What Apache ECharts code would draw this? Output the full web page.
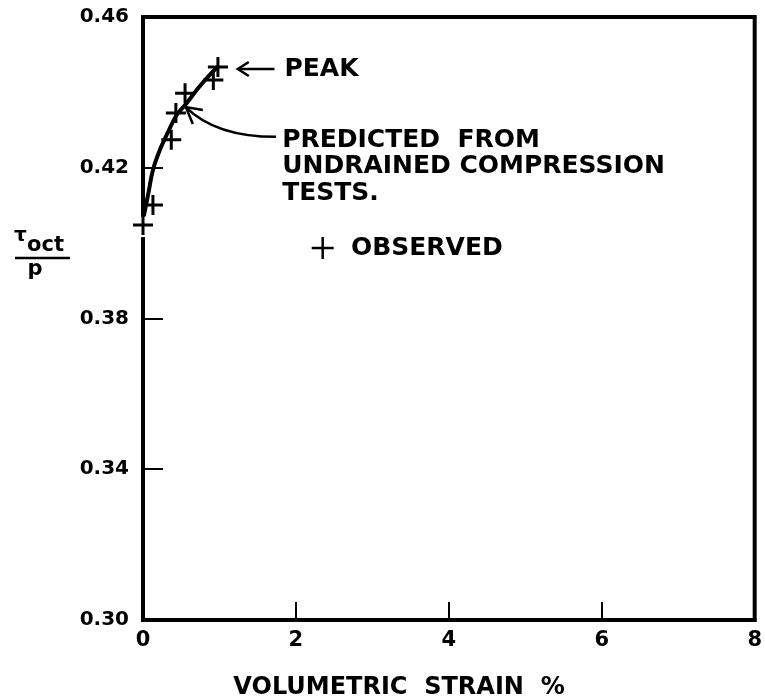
<!DOCTYPE html>
<html>
<head>
<meta charset="utf-8">
<style>
  html, body { margin: 0; padding: 0; background: #fff; }
  #chart { width: 765px; height: 699px; }
</style>
</head>
<body>
<div id="chart"></div>
<script src="https://cdn.jsdelivr.net/npm/echarts@6/dist/echarts.min.js"></script>
<script>
// observed points (+)
var obsStrain = [0.00, 0.13, 0.37, 0.43, 0.55, 0.92, 0.98];
var obsRatio = [0.4048, 0.4101, 0.4274, 0.4345, 0.4398, 0.4433, 0.4467];
// curve predicted from undrained compression tests
var predStrain = [0.01, 0.07, 0.13, 0.22, 0.33, 0.44, 0.57, 0.72, 0.87, 0.98];
var predRatio = [0.4072, 0.4132, 0.4194, 0.4247, 0.4296, 0.4340, 0.4371, 0.4411, 0.4446, 0.4468];
var xTicks = [0, 2, 4, 6, 8];
var yTicks = [0.30, 0.34, 0.38, 0.42, 0.46];

var FONT = '"DejaVu Sans", sans-serif';
var crossPath = 'path://M8.5,0 H11.5 V8.5 H20 V11.5 H11.5 V20 H8.5 V11.5 H0 V8.5 H8.5 Z';

var chart = echarts.init(document.getElementById('chart'));

function pairs(xs, ys) {
  return xs.map(function (x, i) { return [x, ys[i]]; });
}

chart.setOption({
  animation: false,
  backgroundColor: '#fff',
  grid: {
    left: 143, right: 7, top: 17, bottom: 79,
    show: true, borderColor: '#000', borderWidth: 4
  },
  xAxis: {
    type: 'value',
    min: xTicks[0], max: xTicks[xTicks.length - 1], interval: 2,
    axisLine: { show: true, onZero: false, lineStyle: { color: '#000', width: 4 } },
    axisTick: { show: true, inside: true, length: 18, lineStyle: { color: '#000', width: 2 } },
    axisLabel: { color: '#000', fontFamily: FONT, fontWeight: 'bold', fontSize: 21, margin: 10 },
    splitLine: { show: false }
  },
  yAxis: {
    type: 'value',
    min: yTicks[0], max: yTicks[yTicks.length - 1], interval: 0.04,
    axisLine: { show: true, lineStyle: { color: '#000', width: 4 } },
    axisTick: { show: true, inside: true, length: 20, lineStyle: { color: '#000', width: 2 } },
    axisLabel: {
      color: '#000', fontFamily: FONT, fontWeight: 'bold', fontSize: 20, margin: 14,
      formatter: function (v) { return v.toFixed(2); }
    },
    splitLine: { show: false }
  },
  series: [
    {
      name: 'predicted',
      type: 'line',
      data: pairs(predStrain, predRatio),
      smooth: 0.4,
      symbol: 'none',
      lineStyle: { color: '#000', width: 4 },
      z: 3
    },
    {
      name: 'observed',
      type: 'scatter',
      data: pairs(obsStrain, obsRatio),
      symbol: crossPath,
      symbolSize: 20,
      itemStyle: { color: '#000', opacity: 1 },
      z: 4
    }
  ]
});

function px(x, y) {
  return chart.convertToPixel({ gridIndex: 0 }, [x, y]);
}

var txt = { fill: '#000', font: 'bold 25px ' + FONT };

// gap in the left axis line around the lowest observed point
var gapTop = px(0, 0.4070), gapBot = px(0, 0.4016);

// peak arrow
var peakTip = px(1.24, 0.4462), peakTail = px(1.72, 0.4462), peakText = px(1.85, 0.4462);
// curved arrow to the predicted curve
var predTail = px(1.74, 0.4282), predTip = px(0.56, 0.4361), predText = px(1.82, 0.4274);
// legend
var obsMark = px(2.35, 0.3987), obsText = px(2.72, 0.3987);

chart.setOption({
  graphic: [
    { type: 'rect', z: 1, shape: { x: gapTop[0] - 4, y: gapTop[1], width: 8, height: gapBot[1] - gapTop[1] }, style: { fill: '#fff' } },

    { type: 'line', shape: { x1: peakTail[0], y1: peakTail[1], x2: peakTip[0], y2: peakTip[1] }, style: { stroke: '#000', lineWidth: 2.5 } },
    { type: 'polyline', shape: { points: [[peakTip[0] + 11, peakTip[1] - 7], peakTip, [peakTip[0] + 11, peakTip[1] + 7]] }, style: { stroke: '#000', lineWidth: 2.5, fill: null } },
    { type: 'text', x: peakText[0], y: peakText[1], style: { text: 'PEAK', fill: '#000', font: txt.font, verticalAlign: 'middle' } },

    { type: 'bezierCurve', shape: { x1: predTail[0], y1: predTail[1], cpx1: predTail[0] - 45, cpy1: predTail[1], cpx2: predTip[0] + 18, cpy2: predTip[1] + 18, x2: predTip[0], y2: predTip[1] }, style: { stroke: '#000', lineWidth: 2.5, fill: null } },
    { type: 'polyline', shape: { points: [[predTip[0] + 17, predTip[1] + 3], predTip, [predTip[0] + 7, predTip[1] + 17]] }, style: { stroke: '#000', lineWidth: 2.5, fill: null } },
    { type: 'text', x: predText[0], y: predText[1] - 13, style: { text: 'PREDICTED  FROM\nUNDRAINED COMPRESSION\nTESTS.', fill: '#000', font: txt.font, lineHeight: 26.5, verticalAlign: 'top' } },

    { type: 'line', shape: { x1: obsMark[0] - 11, y1: obsMark[1], x2: obsMark[0] + 11, y2: obsMark[1] }, style: { stroke: '#000', lineWidth: 2.5 } },
    { type: 'line', shape: { x1: obsMark[0], y1: obsMark[1] - 11, x2: obsMark[0], y2: obsMark[1] + 11 }, style: { stroke: '#000', lineWidth: 2.5 } },
    { type: 'text', x: obsText[0], y: obsText[1], style: { text: 'OBSERVED', fill: '#000', font: txt.font, verticalAlign: 'middle' } },

    // y axis name: tau_oct / p
    { type: 'text', x: 14, y: 236, style: { text: 'τ', fill: '#000', font: 'bold 20px ' + FONT, verticalAlign: 'middle' } },
    { type: 'text', x: 27, y: 246, style: { text: 'oct', fill: '#000', font: 'bold 21px ' + FONT, verticalAlign: 'middle' } },
    { type: 'line', shape: { x1: 15, y1: 258, x2: 70, y2: 258 }, style: { stroke: '#000', lineWidth: 2.5 } },
    { type: 'text', x: 35, y: 270, style: { text: 'p', fill: '#000', font: 'bold 21px ' + FONT, align: 'center', verticalAlign: 'middle' } },

    // x axis name
    { type: 'text', x: 399, y: 688, style: { text: 'VOLUMETRIC  STRAIN  %', fill: '#000', font: 'bold 24px ' + FONT, align: 'center', verticalAlign: 'middle' } }
  ]
});
</script>
</body>
</html>
